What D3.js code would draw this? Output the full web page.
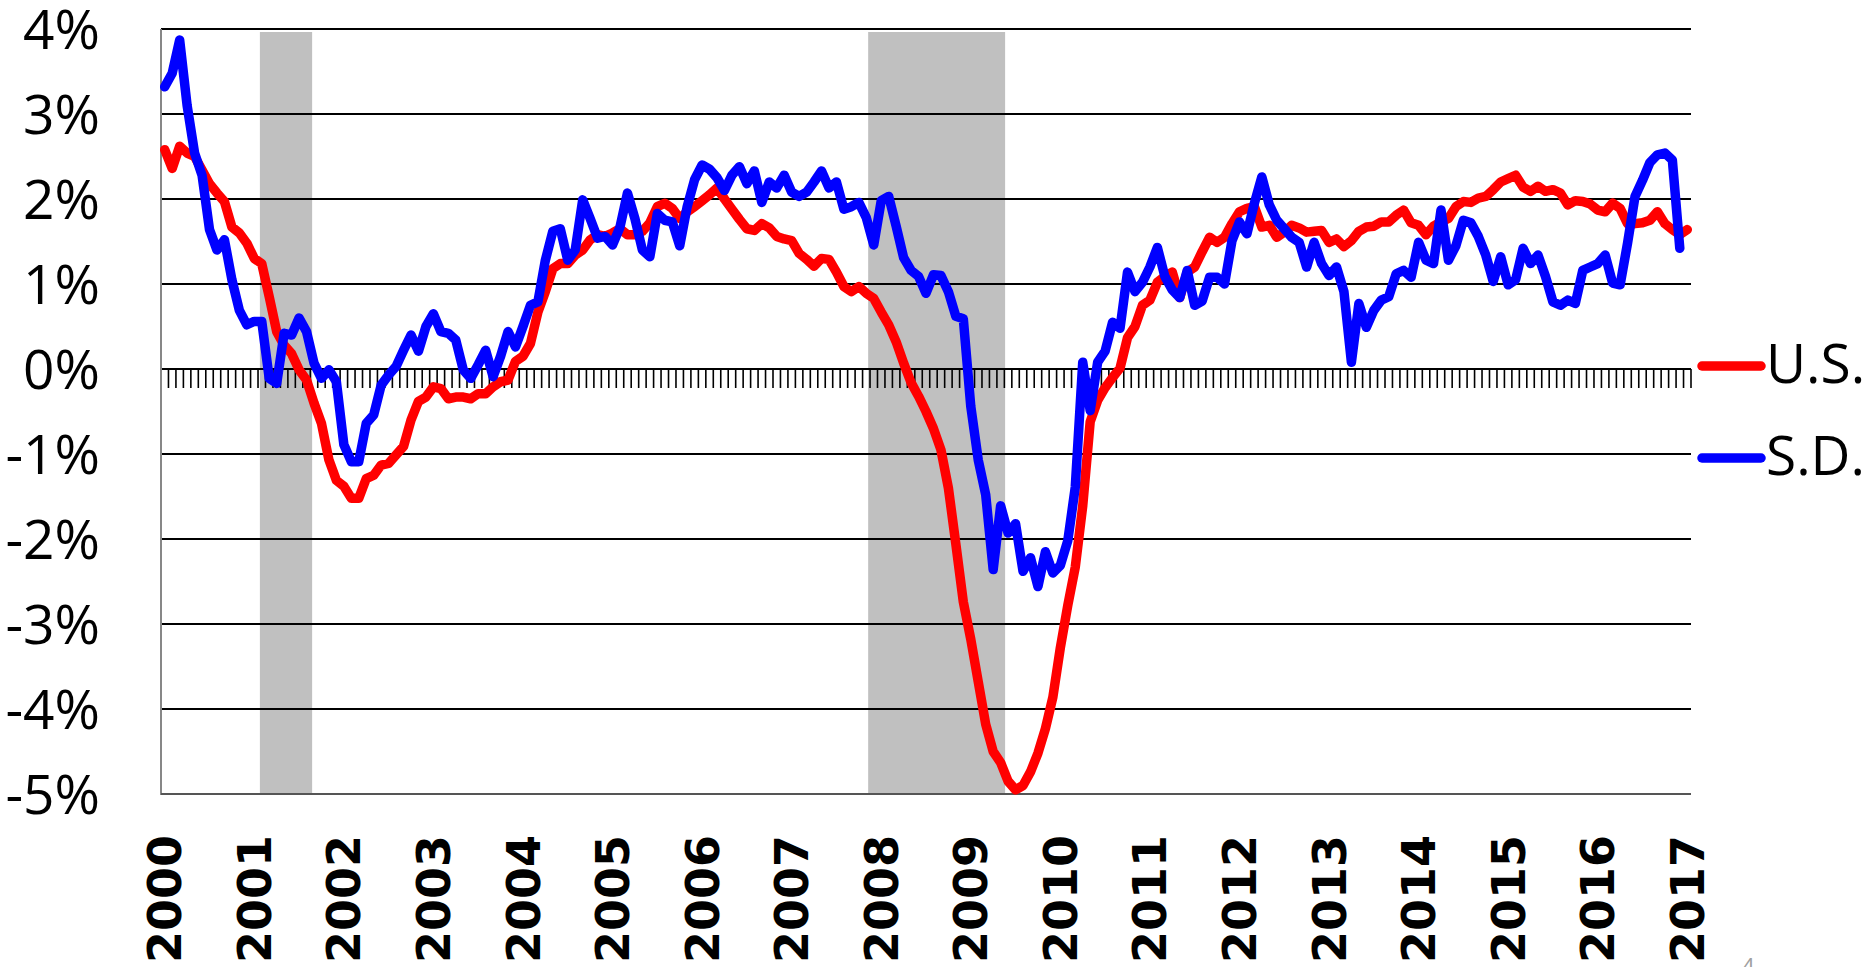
<!DOCTYPE html>
<html lang="en">
<head>
    <meta charset="UTF-8">
    <title>U.S. vs S.D.</title>
    <script src="https://cdn.jsdelivr.net/npm/d3@7"></script>
    <style>
        body {
            margin: 0;
            background: #fff;
        }

        #graphDiv {
            width: 1865px;
            height: 967px;
            overflow: hidden;
        }
    </style>
</head>
<body>
<div id="graphDiv"></div>
<script>
    // monthly values, Jan 2000 .. Jan 2017 (percent)
    var usValues = [
        2.58, 2.36, 2.62, 2.54, 2.50, 2.34, 2.18, 2.07, 1.97, 1.67, 1.60, 1.48,
        1.30, 1.24, 0.85, 0.44, 0.28, 0.18, -0.01, -0.13, -0.40, -0.64, -1.07, -1.31,
        -1.38, -1.52, -1.52, -1.29, -1.25, -1.13, -1.11, -1.01, -0.91, -0.60, -0.38, -0.33,
        -0.21, -0.23, -0.35, -0.33, -0.33, -0.35, -0.29, -0.29, -0.21, -0.15, -0.13, 0.09,
        0.15, 0.30, 0.67, 0.91, 1.18, 1.24, 1.24, 1.34, 1.40, 1.52, 1.58, 1.56,
        1.60, 1.65, 1.58, 1.58, 1.62, 1.72, 1.91, 1.95, 1.89, 1.77, 1.85, 1.91,
        1.98, 2.05, 2.13, 2.00, 1.88, 1.76, 1.65, 1.63, 1.71, 1.66, 1.56, 1.53,
        1.51, 1.36, 1.29, 1.21, 1.30, 1.29, 1.14, 0.97, 0.91, 0.97, 0.89, 0.83,
        0.67, 0.52, 0.32, 0.07, -0.16, -0.32, -0.50, -0.70, -0.95, -1.40, -2.06, -2.74,
        -3.18, -3.68, -4.18, -4.50, -4.63, -4.85, -4.95, -4.90, -4.74, -4.52, -4.23, -3.86,
        -3.28, -2.78, -2.33, -1.61, -0.62, -0.37, -0.22, -0.10, 0.01, 0.37, 0.50, 0.75,
        0.81, 1.02, 1.09, 1.14, 0.84, 1.14, 1.20, 1.38, 1.55, 1.49, 1.55, 1.71,
        1.85, 1.89, 1.91, 1.67, 1.69, 1.55, 1.61, 1.69, 1.66, 1.61, 1.62, 1.63,
        1.49, 1.53, 1.44, 1.51, 1.62, 1.67, 1.68, 1.73, 1.73, 1.81, 1.87, 1.72,
        1.69, 1.58, 1.68, 1.73, 1.77, 1.91, 1.97, 1.96, 2.01, 2.03, 2.11, 2.20,
        2.24, 2.28, 2.14, 2.09, 2.15, 2.09, 2.11, 2.07, 1.93, 1.98, 1.97, 1.94,
        1.87, 1.85, 1.95, 1.89, 1.71, 1.71, 1.72, 1.75, 1.85, 1.71, 1.64, 1.58,
        1.64
    ];

    // monthly values, Jan 2000 .. Dec 2016 (percent)
    var sdValues = [
        3.32, 3.48, 3.87, 3.10, 2.54, 2.28, 1.64, 1.40, 1.52, 1.05, 0.69, 0.52,
        0.56, 0.56, -0.11, -0.17, 0.42, 0.40, 0.60, 0.44, 0.07, -0.11, -0.01, -0.15,
        -0.89, -1.09, -1.09, -0.64, -0.54, -0.19, -0.07, 0.03, 0.22, 0.40, 0.21, 0.50,
        0.65, 0.44, 0.42, 0.34, -0.01, -0.11, 0.05, 0.22, -0.09, 0.15, 0.44, 0.26,
        0.50, 0.75, 0.79, 1.28, 1.62, 1.65, 1.28, 1.40, 1.99, 1.77, 1.54, 1.56,
        1.46, 1.67, 2.07, 1.77, 1.40, 1.32, 1.83, 1.75, 1.73, 1.45, 1.91, 2.23,
        2.40, 2.35, 2.25, 2.10, 2.28, 2.38, 2.18, 2.33, 1.96, 2.20, 2.13, 2.28,
        2.08, 2.03, 2.08, 2.20, 2.33, 2.13, 2.20, 1.88, 1.91, 1.96, 1.78, 1.46,
        1.98, 2.03, 1.68, 1.31, 1.16, 1.09, 0.89, 1.11, 1.10, 0.91, 0.62, 0.59,
        -0.44, -1.07, -1.48, -2.36, -1.61, -1.93, -1.82, -2.38, -2.22, -2.56, -2.15, -2.40,
        -2.31, -2.02, -1.39, 0.08, -0.49, 0.08, 0.21, 0.55, 0.48, 1.14, 0.91, 1.02,
        1.20, 1.43, 1.09, 0.93, 0.84, 1.16, 0.75, 0.80, 1.08, 1.08, 1.00, 1.51,
        1.73, 1.59, 1.95, 2.26, 1.93, 1.75, 1.65, 1.55, 1.49, 1.20, 1.49, 1.24,
        1.10, 1.20, 0.91, 0.08, 0.77, 0.49, 0.69, 0.81, 0.85, 1.12, 1.16, 1.08,
        1.49, 1.28, 1.24, 1.87, 1.28, 1.45, 1.75, 1.72, 1.56, 1.34, 1.03, 1.32,
        0.99, 1.05, 1.42, 1.24, 1.34, 1.09, 0.79, 0.75, 0.81, 0.77, 1.16, 1.20,
        1.24, 1.34, 1.01, 0.99, 1.48, 2.03, 2.22, 2.43, 2.52, 2.54, 2.46, 1.42
    ];

    var yearLabels = ["2000", "2001", "2002", "2003", "2004", "2005", "2006", "2007", "2008",
        "2009", "2010", "2011", "2012", "2013", "2014", "2015", "2016", "2017"];
    var yTicks = [4, 3, 2, 1, 0, -1, -2, -3, -4, -5];
    // recessions, in months since Jan 2000
    var recessionStart = [13.25, 94.75];
    var recessionEnd = [20.25, 113.1];
    var seriesNames = ["U.S.", "S.D."];
    var seriesColors = ["#ff0000", "#0000ff"];

    function drawChart() {
        var W = 1865, H = 967;
        var plotLeft = 161, plotRight = 1691, plotTop = 29, plotBottom = 794;
        var nMonths = usValues.length;

        var svg = d3.select("#graphDiv").append("svg")
            .attr("width", W)
            .attr("height", H);

        var x = d3.scaleLinear().domain([0, nMonths]).range([plotLeft, plotRight]);
        var y = d3.scaleLinear().domain([-5, 4]).range([plotBottom, plotTop]);

        // recession shading
        svg.selectAll("rect.rec")
            .data(recessionStart).enter().append("rect")
            .attr("class", "rec")
            .attr("x", function (d) { return x(d); })
            .attr("width", function (d, i) { return x(recessionEnd[i]) - x(d); })
            .attr("y", plotTop + 3)
            .attr("height", plotBottom - plotTop - 3)
            .style("fill", "#c0c0c0");

        // gridlines
        svg.selectAll("line.grid")
            .data(yTicks.filter(function (d) { return d > -5; })).enter().append("line")
            .attr("class", "grid")
            .attr("x1", plotLeft).attr("x2", plotRight)
            .attr("y1", function (d) { return y(d); })
            .attr("y2", function (d) { return y(d); })
            .style("stroke", "#000")
            .style("stroke-width", 2.2);

        // monthly tick marks on the zero line
        svg.selectAll("line.mtick")
            .data(d3.range(nMonths + 1)).enter().append("line")
            .attr("class", "mtick")
            .attr("x1", function (d) { return x(d); })
            .attr("x2", function (d) { return x(d); })
            .attr("y1", y(0))
            .attr("y2", y(0) + 19)
            .style("stroke", "#000")
            .style("stroke-width", 1.6);

        // axis lines
        svg.append("line")
            .attr("x1", plotLeft).attr("x2", plotLeft)
            .attr("y1", plotTop).attr("y2", plotBottom + 1)
            .style("stroke", "#878787").style("stroke-width", 2);
        svg.append("line")
            .attr("x1", plotLeft).attr("x2", plotRight)
            .attr("y1", y(-5)).attr("y2", y(-5))
            .style("stroke", "#555").style("stroke-width", 2);

        // series lines
        var line = d3.line()
            .x(function (d, i) { return x(i + 0.5); })
            .y(function (d) { return y(d); });

        [usValues, sdValues].forEach(function (vals, k) {
            svg.append("path")
                .datum(vals)
                .attr("d", line)
                .style("fill", "none")
                .style("stroke", seriesColors[k])
                .style("stroke-width", 9.5)
                .style("stroke-linejoin", "round")
                .style("stroke-linecap", "round");
        });

        // y labels
        svg.selectAll("text.ylab")
            .data(yTicks).enter().append("text")
            .attr("class", "ylab")
            .attr("x", 100)
            .attr("y", function (d) { return y(d); })
            .attr("dy", "0.36em")
            .attr("text-anchor", "end")
            .style("font-family", "'Open Sans', sans-serif")
            .style("font-size", "55px")
            .text(function (d) { return d + "%"; });

        // year labels
        svg.selectAll("text.xlab")
            .data(yearLabels).enter().append("text")
            .attr("class", "xlab")
            .attr("transform", function (d, i) {
                return "translate(" + x(i * 12 + 0.5) + ",835) rotate(-90)";
            })
            .attr("dy", "0.36em")
            .attr("text-anchor", "end")
            .style("font-family", "'DejaVu Sans', sans-serif")
            .style("font-weight", "bold")
            .style("font-size", "46px")
            .text(function (d) { return d; });

        // legend
        var legendY = [366, 458];
        seriesNames.forEach(function (name, k) {
            svg.append("line")
                .attr("x1", 1702).attr("x2", 1761)
                .attr("y1", legendY[k]).attr("y2", legendY[k])
                .style("stroke", seriesColors[k])
                .style("stroke-width", 9.5)
                .style("stroke-linecap", "round");
            svg.append("text")
                .attr("x", 1766)
                .attr("y", legendY[k] - 3)
                .attr("dy", "0.36em")
                .style("font-family", "'Open Sans', sans-serif")
                .style("font-size", "55px")
                .text(name);
        });

        // page number, cut by the bottom edge
        svg.append("text")
            .attr("x", 1742).attr("y", 974)
            .style("font-family", "'Open Sans', sans-serif")
            .style("font-size", "22px")
            .style("fill", "#a0a0a0")
            .text("4");
    }

    drawChart();
</script>
</body>
</html>
